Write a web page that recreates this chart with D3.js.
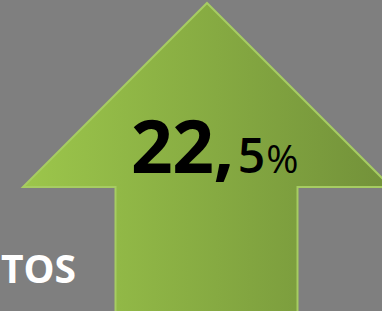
<!DOCTYPE html>
<html>
<head>
<meta charset="utf-8">
<script src="https://cdn.jsdelivr.net/npm/d3@7"></script>
<style>
  html, body { margin: 0; padding: 0; background: #7f7f7f; }
  svg { display: block; }
</style>
</head>
<body>
<div id="chart"></div>
<script>
// datos
var labels = ["TOS"];
var values = [22.5];
var valueParts = ["22,", "5", "%"];

var width = 382, height = 311;

// forma de la flecha en unidades (0..1)
var arrowX = [0.5, 1, 0.75, 0.75, 0.25, 0.25, 0];
var arrowY = [0, 0.5, 0.5, 1, 1, 0.5, 0.5];

var x = d3.scaleLinear().domain([0, 1]).range([23, 391]);
var y = d3.scaleLinear().domain([0, 0.5]).range([3, 187]);
var shaftX = d3.scaleLinear().domain([0.25, 0.75]).range([115.5, 297.5]);

var svg = d3.select("#chart").append("svg")
            .attr("width", width)
            .attr("height", height);

svg.append("rect")
   .attr("width", width)
   .attr("height", height)
   .attr("fill", "#7f7f7f");

var grad = svg.append("defs").append("linearGradient")
              .attr("id", "verde")
              .attr("gradientUnits", "userSpaceOnUse")
              .attr("x1", 23).attr("x2", 382)
              .attr("y1", 0).attr("y2", 0);
grad.append("stop").attr("offset", "0%").attr("stop-color", "#9cc64b");
grad.append("stop").attr("offset", "100%").attr("stop-color", "#73923a");

var pts = arrowX.map(function(d, i) {
	var px = (d == 0.25 || d == 0.75) ? shaftX(d) : x(d);
	var py = arrowY[i] == 1 ? height + 5 : y(arrowY[i]);
	return [px, py];
});

svg.append("path")
   .attr("d", d3.line()(pts) + "Z")
   .attr("fill", "url(#verde)")
   .attr("stroke", "#a6cc62")
   .attr("stroke-width", 2)
   .attr("stroke-linejoin", "miter");

// valor
var t = svg.append("text")
           .attr("x", 131)
           .attr("y", 173)
           .attr("fill", "#000")
           .attr("font-family", "'Open Sans', sans-serif")
           .attr("font-weight", "bold");
t.append("tspan").attr("font-size", 73).attr("letter-spacing", -0.5).text(valueParts[0]);
t.append("tspan").attr("font-size", 48).attr("font-weight", 600).attr("dx", 4).text(valueParts[1]);
t.append("tspan").attr("font-size", 39).attr("font-weight", "normal").attr("dx", 1).text(valueParts[2]);

// etiqueta
svg.selectAll("text.etiqueta")
   .data(labels)
   .enter().append("text")
   .classed("etiqueta", true)
   .attr("x", 76)
   .attr("y", 283)
   .attr("text-anchor", "end")
   .attr("fill", "#fff")
   .attr("font-family", "'Open Sans', sans-serif")
   .attr("font-weight", "bold")
   .attr("font-size", 39)
   .text(function(d) { return d; });
</script>
</body>
</html>
